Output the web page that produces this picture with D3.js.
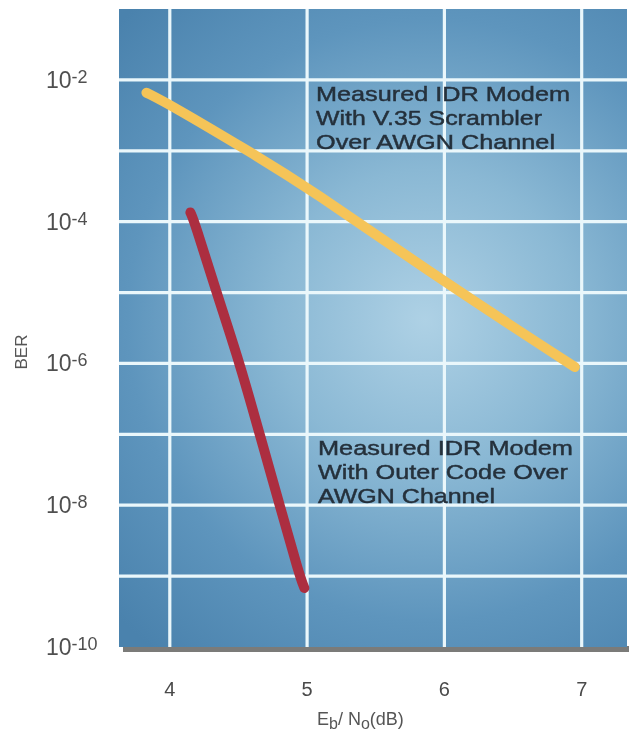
<!DOCTYPE html>
<html>
<head>
<meta charset="utf-8">
<script src="https://cdn.jsdelivr.net/npm/d3@7"></script>
<style>
  html, body { margin: 0; padding: 0; background: #ffffff; }
  svg { display: block; }
</style>
</head>
<body>
<script>
// BER curves for the IDR modem, Eb/No in dB against bit error rate
const scramblerEbNo = [3.83, 4.0, 4.57, 5.0, 6.0, 6.95];
const scramblerBer  = [6.6e-3, 4.5e-3, 1e-3, 3.1e-4, 1.4e-5, 8.9e-7];

const outerEbNo = [4.15, 4.18, 4.34, 4.51, 4.655, 4.80, 4.946, 4.98];
const outerBer  = [1.35e-4, 1e-4, 1e-5, 1e-6, 1e-7, 1e-8, 1e-9, 6.8e-10];

const xTicks = [4, 5, 6, 7];
const yGrid  = [1e-9, 1e-8, 1e-7, 1e-6, 1e-5, 1e-4, 1e-3, 1e-2];
const yLabels = [
  { value: 1e-2,  base: "10", exp: "-2" },
  { value: 1e-4,  base: "10", exp: "-4" },
  { value: 1e-6,  base: "10", exp: "-6" },
  { value: 1e-8,  base: "10", exp: "-8" },
  { value: 1e-10, base: "10", exp: "-10" }
];

const scramblerLabel = ["Measured IDR Modem", "With V.35 Scrambler", "Over AWGN Channel"];
const outerLabel = ["Measured IDR Modem", "With Outer Code Over", "AWGN Channel"];

const W = 629, H = 736;
const plot = { left: 119, right: 627, top: 9, bottom: 647 };

const svg = d3.select("body").append("svg")
  .attr("width", W).attr("height", H)
  .attr("font-family", "'Liberation Sans', Arial, Helvetica, sans-serif");

const x = d3.scaleLinear().domain([3.63, 7.33]).range([plot.left, plot.right]);
const y = d3.scaleLog().domain([1e-10, 1e-1]).range([plot.bottom, plot.top]);

const defs = svg.append("defs");
const grad = defs.append("radialGradient")
  .attr("id", "panelGlow")
  .attr("gradientUnits", "userSpaceOnUse")
  .attr("cx", 430).attr("cy", 320).attr("r", 430)
  .attr("fx", 425).attr("fy", 320);
grad.append("stop").attr("offset", "0").attr("stop-color", "#aed1e5");
grad.append("stop").attr("offset", "0.35").attr("stop-color", "#8ab8d4");
grad.append("stop").attr("offset", "0.7").attr("stop-color", "#5e95bd");
grad.append("stop").attr("offset", "1").attr("stop-color", "#4a82ad");

defs.append("filter").attr("id", "soft")
  .append("feGaussianBlur").attr("stdDeviation", 0.45);

// bottom shadow strip under the panel
svg.append("rect")
  .attr("x", plot.left + 4).attr("y", plot.bottom - 1)
  .attr("width", W - plot.left - 4).attr("height", 6)
  .attr("fill", "#7b7b79");

// panel
svg.append("rect")
  .attr("x", plot.left).attr("y", plot.top)
  .attr("width", plot.right - plot.left).attr("height", plot.bottom - plot.top)
  .attr("fill", "url(#panelGlow)");

// grid
const grid = svg.append("g").attr("stroke", "#eaf7fb").attr("stroke-width", 3.2);
grid.selectAll("line.v").data(xTicks).join("line")
  .attr("class", "v")
  .attr("x1", d => x(d)).attr("x2", d => x(d))
  .attr("y1", plot.top).attr("y2", plot.bottom);
grid.selectAll("line.h").data(yGrid).join("line")
  .attr("class", "h")
  .attr("x1", plot.left).attr("x2", plot.right)
  .attr("y1", d => y(d)).attr("y2", d => y(d));

// curves
const line = d3.line()
  .x(d => x(d[0])).y(d => y(d[1]))
  .curve(d3.curveBasis);

svg.append("path")
  .datum(d3.zip(scramblerEbNo, scramblerBer))
  .attr("d", line)
  .attr("fill", "none")
  .attr("stroke", "#f5c458")
  .attr("stroke-width", 10)
  .attr("stroke-linecap", "round")
  .attr("filter", "url(#soft)");

svg.append("path")
  .datum(d3.zip(outerEbNo, outerBer))
  .attr("d", line)
  .attr("fill", "none")
  .attr("stroke", "#ac2f40")
  .attr("stroke-width", 10)
  .attr("stroke-linecap", "round")
  .attr("filter", "url(#soft)");

// annotations
function block(lines, x0, y0, widths) {
  const g = svg.append("g")
    .attr("fill", "#25303b").attr("stroke", "#25303b").attr("stroke-width", 0.45)
    .attr("filter", "url(#soft)");
  lines.forEach((t, i) => {
    g.append("text")
      .attr("x", x0).attr("y", y0 + i * 24)
      .attr("font-size", 21)
      .attr("textLength", widths[i])
      .attr("lengthAdjust", "spacingAndGlyphs")
      .text(t);
  });
}
block(scramblerLabel, 316, 101, [254, 226, 239]);
block(outerLabel, 318, 455, [255, 250, 177]);

// y tick labels
const yl = svg.append("g").attr("fill", "#505050").attr("filter", "url(#soft)");
yLabels.forEach(d => {
  const t = yl.append("text")
    .attr("x", 46).attr("y", y(d.value) + 8)
    .attr("font-size", 23);
  t.append("tspan").text(d.base);
  t.append("tspan").attr("font-size", 18).attr("dy", -5).text(d.exp);
});

// x tick labels
svg.append("g").attr("fill", "#4a4a4a").attr("filter", "url(#soft)")
  .selectAll("text").data(xTicks).join("text")
  .attr("x", d => x(d)).attr("y", 696)
  .attr("text-anchor", "middle")
  .attr("font-size", 20)
  .text(d => d);

// axis titles
const xt = svg.append("text")
  .attr("x", 317).attr("y", 725)
  .attr("font-size", 18).attr("fill", "#555")
  .attr("filter", "url(#soft)");
xt.append("tspan").text("E");
xt.append("tspan").attr("font-size", 16).attr("dy", 4).text("b");
xt.append("tspan").attr("dy", -4).text("/ N");
xt.append("tspan").attr("font-size", 16).attr("dy", 4).text("o");
xt.append("tspan").attr("dy", -4).text("(dB)");

svg.append("text")
  .attr("transform", "translate(27,352) rotate(-90)")
  .attr("text-anchor", "middle")
  .attr("font-size", 17).attr("fill", "#555")
  .attr("filter", "url(#soft)")
  .text("BER");
</script>
</body>
</html>
